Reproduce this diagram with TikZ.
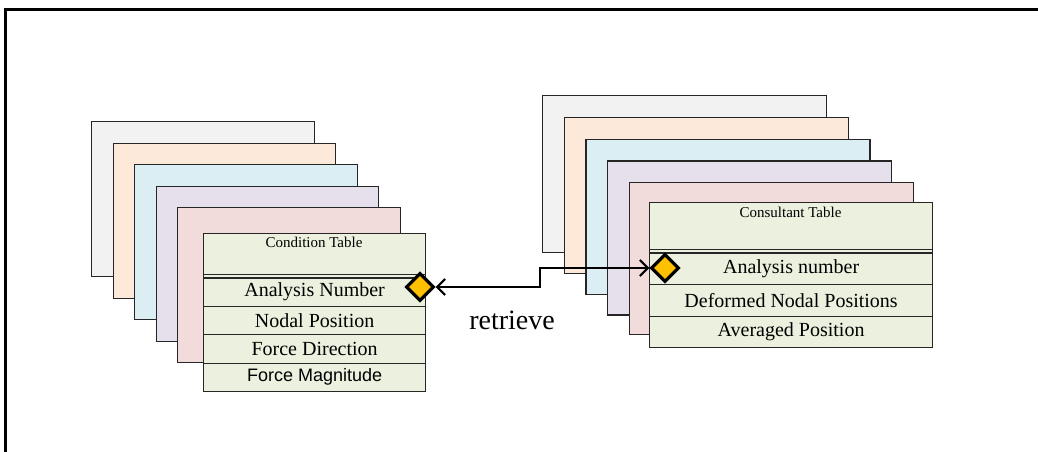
\documentclass[tikz,border=0pt]{standalone}
\usepackage{fontspec}
\setmainfont{Liberation Serif}
\newfontfamily\gothicfont{Liberation Sans}
\usetikzlibrary{arrows.meta,shapes.geometric}
\definecolor{cgray}{HTML}{F2F2F2}
\definecolor{cpeach}{HTML}{FDE9D9}
\definecolor{cblue}{HTML}{DAEEF3}
\definecolor{clav}{HTML}{E5E0EC}
\definecolor{cpink}{HTML}{F2DCDB}
\definecolor{cgreen}{HTML}{EBF1DE}
\definecolor{cgold}{HTML}{FFC000}
\begin{document}
\begin{tikzpicture}[x=1pt,y=-1pt,
  sheetbox/.style={draw=black!85, line width=1.2pt, anchor=north west, inner sep=0pt},
  rowbox/.style={draw=black!85, line width=1.2pt, fill=cgreen, anchor=north west, inner sep=0pt},
  rowtext/.style={font=\fontsize{20}{24}\selectfont, inner sep=0pt},
  headtext/.style={font=\fontsize{15}{18}\selectfont, inner sep=0pt, anchor=north},
  key/.style={diamond, draw=black, line width=3.2pt, fill=cgold, inner sep=0pt, minimum size=28pt},
  link/.style={line width=2.6pt, {Straight Barb[length=8pt,width=16pt,line width=2.2pt]}-{Straight Barb[length=8pt,width=16pt,line width=2.2pt]}}
]
\useasboundingbox (0,0) rectangle (1038,452);
\draw[line width=3pt] (5,452) -- (5,10) -- (1038,10);

% ---------- left stack ----------
\node[sheetbox, fill=cgray,  minimum width=222.5pt, minimum height=155pt] (L1) at (91,121) {};
\node[sheetbox, fill=cpeach, minimum width=222.5pt, minimum height=155pt] (L2) at (112.5,142.5) {};
\node[sheetbox, fill=cblue,  minimum width=222.5pt, minimum height=155pt] (L3) at (134,164) {};
\node[sheetbox, fill=clav,   minimum width=222.5pt, minimum height=155pt] (L4) at (155.5,185.5) {};
\node[sheetbox, fill=cpink,  minimum width=222.5pt, minimum height=155pt] (L5) at (177,207) {};

\node[rowbox, minimum width=222pt, minimum height=44.3pt] (LH) at (203,233) {};
\node[headtext] (LHt) at (314,237) {Condition Table};
\node[rowbox, minimum width=222pt, minimum height=28.4pt] (LR1) at (203,277.3) {};
\node[rowbox, minimum width=222pt, minimum height=28.4pt] (LR2) at (203,305.7) {};
\node[rowbox, minimum width=222pt, minimum height=28.4pt] (LR3) at (203,334.1) {};
\node[rowbox, minimum width=222pt, minimum height=28.4pt] (LR4) at (203,362.5) {};
\draw[line width=1.2pt, black!85] (LH.west |- 0,274.3) -- (LH.east |- 0,274.3);
\node[rowtext] at (LR1.center) {Analysis Number};
\node[rowtext] at (LR2.center) {Nodal Position};
\node[rowtext] at (LR3.center) {Force Direction};
\node[rowtext, font=\gothicfont\fontsize{18}{22}\selectfont] at (LR4.center) {Force Magnitude};

% ---------- right stack ----------
\node[sheetbox, fill=cgray,  minimum width=284pt, minimum height=157pt] (R1) at (542,95) {};
\node[sheetbox, fill=cpeach, minimum width=284pt, minimum height=156pt] (R2) at (563.7,116.8) {};
\node[sheetbox, fill=cblue,  minimum width=284pt, minimum height=155pt] (R3) at (585.4,138.5) {};
\node[sheetbox, fill=clav,   minimum width=284pt, minimum height=154pt] (R4) at (607.1,160.3) {};
\node[sheetbox, fill=cpink,  minimum width=284pt, minimum height=152pt] (R5) at (628.8,182) {};

\node[rowbox, minimum width=283pt, minimum height=50.3pt] (RH) at (649,202) {};
\node[headtext] (RHt) at (790.5,207) {Consultant Table};
\node[rowbox, minimum width=283pt, minimum height=31.6pt] (RR1) at (649,252.3) {};
\node[rowbox, minimum width=283pt, minimum height=31.6pt] (RR2) at (649,283.9) {};
\node[rowbox, minimum width=283pt, minimum height=31.6pt] (RR3) at (649,315.5) {};
\draw[line width=1.2pt, black!85] (RH.west |- 0,249.3) -- (RH.east |- 0,249.3);
\node[rowtext] at (RR1.center) {Analysis number};
\node[rowtext] at (RR2.center) {Deformed Nodal Positions};
\node[rowtext] at (RR3.center) {Averaged Position};

% ---------- keys and link ----------
\node[key] (ldia) at (420,287) {};
\node[key] (rdia) at (665,268) {};
\coordinate (bend) at (540,287);
\draw[link] (ldia.east) -- (bend) |- (rdia.west);
\node[font=\fontsize{28}{32}\selectfont, inner sep=0pt] (lbl) at (512,320) {retrieve};
\end{tikzpicture}
\end{document}
